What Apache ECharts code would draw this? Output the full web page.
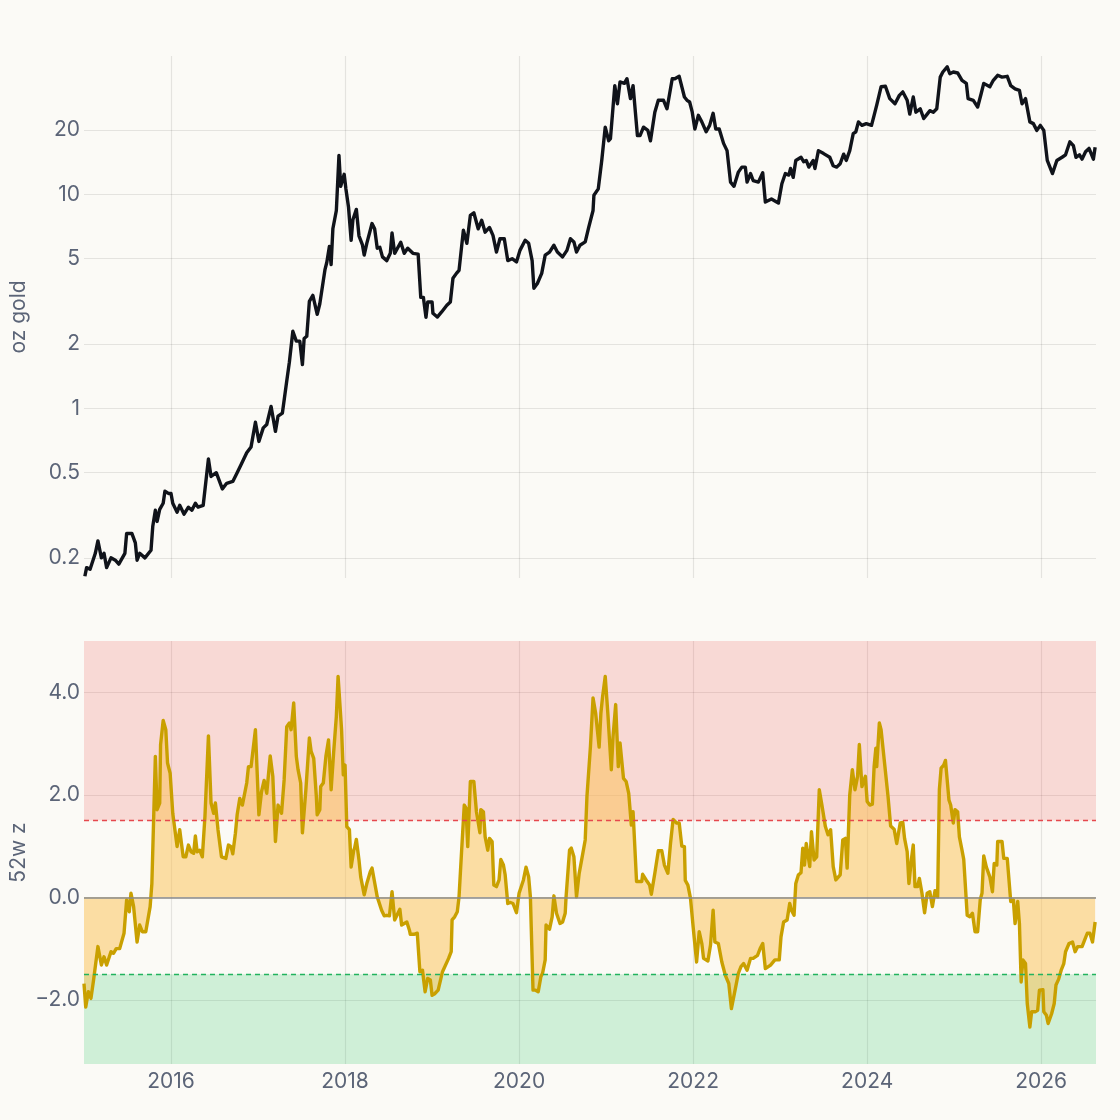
<!DOCTYPE html>
<html>
<head>
<meta charset="UTF-8">
<title>BTC in oz gold / 52w z</title>
<script src="https://cdn.jsdelivr.net/npm/echarts@6/dist/echarts.min.js"></script>
<style>
    html, body { margin: 0; padding: 0; background: #fbfaf6; }
    #chart { width: 1120px; height: 1120px; }
</style>
</head>
<body>
<div id="chart"></div>
<script>
// price in ounces of gold (decimal year, value)
const goldYears = [2015.01,2015.03,2015.07,2015.13,2015.16,2015.20,2015.23,2015.26,2015.31,2015.36,2015.40,2015.47,2015.49,2015.55,2015.59,2015.61,2015.64,2015.70,2015.77,2015.79,2015.82,2015.84,2015.87,2015.91,2015.93,2015.97,2016.00,2016.02,2016.07,2016.10,2016.15,2016.20,2016.24,2016.28,2016.31,2016.37,2016.43,2016.46,2016.52,2016.59,2016.64,2016.71,2016.76,2016.81,2016.87,2016.92,2016.97,2017.01,2017.06,2017.10,2017.15,2017.20,2017.23,2017.28,2017.33,2017.36,2017.40,2017.44,2017.48,2017.51,2017.53,2017.56,2017.59,2017.63,2017.68,2017.71,2017.77,2017.79,2017.82,2017.84,2017.86,2017.90,2017.93,2017.95,2017.99,2018.01,2018.04,2018.07,2018.09,2018.13,2018.16,2018.20,2018.22,2018.25,2018.31,2018.34,2018.37,2018.40,2018.43,2018.48,2018.52,2018.54,2018.57,2018.64,2018.68,2018.72,2018.78,2018.84,2018.87,2018.90,2018.93,2018.95,2019.00,2019.01,2019.06,2019.11,2019.17,2019.21,2019.24,2019.28,2019.31,2019.36,2019.40,2019.44,2019.48,2019.53,2019.57,2019.61,2019.66,2019.70,2019.74,2019.78,2019.83,2019.87,2019.92,2019.97,2020.01,2020.07,2020.11,2020.15,2020.17,2020.21,2020.26,2020.30,2020.35,2020.40,2020.44,2020.50,2020.55,2020.59,2020.63,2020.66,2020.70,2020.76,2020.80,2020.85,2020.86,2020.91,2020.95,2020.99,2021.03,2021.05,2021.10,2021.13,2021.16,2021.21,2021.24,2021.28,2021.31,2021.36,2021.39,2021.43,2021.48,2021.51,2021.56,2021.60,2021.66,2021.70,2021.76,2021.79,2021.84,2021.90,2021.93,2021.96,2021.99,2022.02,2022.06,2022.10,2022.15,2022.19,2022.23,2022.26,2022.30,2022.35,2022.39,2022.43,2022.47,2022.52,2022.56,2022.60,2022.62,2022.66,2022.69,2022.75,2022.80,2022.83,2022.90,2022.98,2023.02,2023.06,2023.10,2023.12,2023.15,2023.18,2023.24,2023.27,2023.30,2023.33,2023.38,2023.40,2023.44,2023.50,2023.57,2023.61,2023.65,2023.69,2023.73,2023.76,2023.80,2023.84,2023.87,2023.90,2023.94,2023.99,2024.05,2024.08,2024.11,2024.16,2024.21,2024.26,2024.32,2024.37,2024.41,2024.46,2024.49,2024.53,2024.56,2024.61,2024.65,2024.69,2024.72,2024.76,2024.80,2024.84,2024.87,2024.92,2024.95,2024.99,2025.04,2025.09,2025.14,2025.16,2025.22,2025.27,2025.31,2025.34,2025.41,2025.45,2025.50,2025.55,2025.61,2025.65,2025.70,2025.75,2025.78,2025.82,2025.87,2025.91,2025.95,2025.99,2026.03,2026.07,2026.13,2026.18,2026.24,2026.28,2026.33,2026.37,2026.40,2026.44,2026.47,2026.51,2026.55,2026.60,2026.62];
const goldOz = [0.164,0.18,0.177,0.21,0.24,0.20,0.21,0.18,0.20,0.195,0.187,0.21,0.26,0.26,0.235,0.195,0.21,0.20,0.217,0.28,0.334,0.296,0.337,0.36,0.41,0.40,0.40,0.36,0.327,0.352,0.32,0.345,0.334,0.36,0.345,0.352,0.58,0.48,0.50,0.42,0.446,0.455,0.50,0.55,0.62,0.66,0.86,0.70,0.81,0.84,1.02,0.78,0.92,0.95,1.34,1.64,2.29,2.06,2.06,1.60,2.12,2.17,3.16,3.37,2.75,3.08,4.46,4.8,5.7,4.7,6.9,8.4,15.2,10.9,12.4,10.6,8.7,6.1,7.6,8.5,6.4,5.8,5.2,5.9,7.3,6.9,5.6,5.65,5.1,4.9,5.3,6.6,5.3,5.97,5.3,5.6,5.3,5.25,3.3,3.3,2.66,3.14,3.14,2.78,2.67,2.82,3.03,3.14,4.05,4.27,4.41,6.8,5.9,7.97,8.2,6.9,7.56,6.65,7.0,6.43,5.37,6.2,6.2,4.9,5.0,4.83,5.47,6.1,5.9,4.9,3.64,3.83,4.27,5.2,5.37,5.78,5.37,5.1,5.47,6.2,5.99,5.37,5.78,5.99,7.0,8.4,9.9,10.6,14.4,20.6,17.8,18.2,32.2,26.5,33.5,33.0,34.7,28.0,32.2,18.8,18.8,20.6,19.9,17.8,24.2,27.5,27.5,25.1,34.7,34.7,35.6,28.5,27.5,27.0,24.2,20.2,23.4,21.8,19.6,21.0,23.9,20.2,20.2,17.3,16.0,11.4,10.9,12.7,13.4,13.4,11.4,12.5,11.6,11.4,12.6,9.2,9.5,9.1,11.2,12.5,12.3,13.2,12.0,14.4,14.9,14.2,14.4,13.4,14.4,13.2,16.0,15.5,14.9,13.6,13.4,13.9,15.4,14.4,16.0,19.2,19.6,21.8,21.0,21.4,21.0,23.4,26.1,31.8,32.0,28.0,26.5,29.0,30.1,27.5,23.7,28.5,24.2,25.1,22.6,23.7,24.6,24.2,25.1,35.3,37.3,39.4,36.6,37.3,36.9,34.1,33.0,28.0,27.5,25.6,29.5,33.0,31.8,34.1,36.0,35.3,35.6,32.2,31.1,30.6,26.5,28.0,21.8,21.4,19.9,21.0,19.9,14.4,12.5,14.4,14.9,15.3,17.6,16.9,14.9,15.3,14.6,15.8,16.4,14.6,16.6];

// 52-week z-score (decimal year, value)
const zYears = [2015.00,2015.02,2015.05,2015.08,2015.11,2015.16,2015.20,2015.23,2015.26,2015.31,2015.34,2015.37,2015.41,2015.46,2015.49,2015.52,2015.54,2015.57,2015.61,2015.64,2015.67,2015.71,2015.76,2015.78,2015.80,2015.82,2015.84,2015.87,2015.88,2015.91,2015.94,2015.96,2015.99,2016.02,2016.04,2016.07,2016.10,2016.12,2016.14,2016.17,2016.20,2016.23,2016.26,2016.28,2016.30,2016.33,2016.36,2016.39,2016.43,2016.46,2016.49,2016.51,2016.54,2016.58,2016.63,2016.66,2016.69,2016.71,2016.74,2016.76,2016.79,2016.82,2016.87,2016.89,2016.92,2016.97,2017.01,2017.04,2017.07,2017.10,2017.14,2017.17,2017.20,2017.23,2017.27,2017.30,2017.33,2017.36,2017.38,2017.41,2017.44,2017.46,2017.49,2017.51,2017.55,2017.59,2017.61,2017.64,2017.67,2017.68,2017.71,2017.72,2017.75,2017.78,2017.81,2017.84,2017.87,2017.90,2017.92,2017.93,2017.96,2017.98,2018.00,2018.02,2018.05,2018.07,2018.09,2018.10,2018.11,2018.13,2018.16,2018.18,2018.20,2018.22,2018.25,2018.29,2018.31,2018.34,2018.37,2018.39,2018.42,2018.45,2018.48,2018.51,2018.54,2018.57,2018.59,2018.63,2018.65,2018.68,2018.71,2018.74,2018.75,2018.79,2018.83,2018.86,2018.89,2018.92,2018.95,2018.98,2019.00,2019.03,2019.07,2019.12,2019.19,2019.22,2019.23,2019.26,2019.29,2019.31,2019.34,2019.37,2019.39,2019.41,2019.44,2019.48,2019.51,2019.52,2019.55,2019.56,2019.59,2019.61,2019.64,2019.66,2019.69,2019.71,2019.74,2019.77,2019.79,2019.82,2019.84,2019.87,2019.90,2019.93,2019.97,2020.00,2020.02,2020.05,2020.08,2020.11,2020.13,2020.16,2020.19,2020.22,2020.25,2020.27,2020.30,2020.31,2020.35,2020.38,2020.40,2020.43,2020.47,2020.50,2020.53,2020.54,2020.58,2020.60,2020.63,2020.66,2020.69,2020.72,2020.74,2020.76,2020.78,2020.82,2020.85,2020.88,2020.92,2020.94,2020.96,2020.99,2021.02,2021.06,2021.08,2021.11,2021.14,2021.16,2021.20,2021.23,2021.26,2021.29,2021.31,2021.35,2021.41,2021.42,2021.46,2021.50,2021.52,2021.56,2021.60,2021.64,2021.67,2021.71,2021.74,2021.77,2021.81,2021.84,2021.87,2021.90,2021.91,2021.94,2021.97,2022.00,2022.04,2022.07,2022.10,2022.12,2022.17,2022.20,2022.23,2022.25,2022.29,2022.33,2022.37,2022.41,2022.44,2022.49,2022.52,2022.55,2022.58,2022.62,2022.66,2022.69,2022.74,2022.77,2022.80,2022.83,2022.89,2022.94,2022.99,2023.01,2023.04,2023.08,2023.11,2023.13,2023.16,2023.18,2023.21,2023.24,2023.26,2023.28,2023.30,2023.34,2023.36,2023.39,2023.42,2023.45,2023.48,2023.52,2023.55,2023.58,2023.61,2023.64,2023.69,2023.72,2023.75,2023.77,2023.80,2023.83,2023.86,2023.89,2023.91,2023.94,2023.98,2024.00,2024.03,2024.06,2024.08,2024.10,2024.11,2024.14,2024.16,2024.20,2024.24,2024.27,2024.31,2024.34,2024.38,2024.41,2024.43,2024.46,2024.48,2024.51,2024.53,2024.55,2024.58,2024.60,2024.63,2024.66,2024.69,2024.72,2024.75,2024.78,2024.81,2024.83,2024.85,2024.88,2024.90,2024.92,2024.94,2024.96,2024.99,2025.01,2025.04,2025.06,2025.09,2025.11,2025.13,2025.15,2025.18,2025.21,2025.24,2025.27,2025.30,2025.32,2025.34,2025.37,2025.41,2025.44,2025.46,2025.49,2025.50,2025.55,2025.57,2025.61,2025.65,2025.68,2025.70,2025.73,2025.75,2025.77,2025.79,2025.82,2025.84,2025.87,2025.89,2025.93,2025.96,2025.98,2026.02,2026.03,2026.06,2026.08,2026.12,2026.15,2026.17,2026.20,2026.23,2026.26,2026.28,2026.32,2026.36,2026.39,2026.42,2026.47,2026.50,2026.53,2026.56,2026.59,2026.62];
const zScore = [-1.68,-2.14,-1.84,-1.97,-1.61,-0.96,-1.32,-1.16,-1.32,-1.06,-1.09,-1.0,-1.0,-0.70,-0.05,-0.28,0.08,-0.18,-0.87,-0.54,-0.67,-0.67,-0.18,0.27,1.51,2.75,1.71,1.84,2.98,3.45,3.27,2.62,2.42,1.64,1.61,0.99,1.32,1.32,0.79,0.79,1.02,0.89,0.86,1.20,0.89,0.92,0.79,1.58,3.15,1.84,1.64,1.84,1.32,0.79,0.76,1.02,0.99,0.85,1.25,1.61,1.93,1.80,2.23,2.55,2.55,3.27,1.61,2.06,2.28,2.03,2.76,2.36,1.09,1.80,1.64,2.29,3.33,3.40,3.27,3.79,2.75,2.49,2.23,1.26,2.10,3.11,2.85,2.71,1.97,1.61,1.71,2.16,2.23,2.75,3.07,2.10,2.85,3.53,4.31,4.31,3.27,2.39,2.58,1.38,1.32,0.59,0.57,0.92,0.96,1.13,0.73,0.40,0.40,0.05,0.27,0.50,0.57,0.29,0.01,0.01,-0.25,-0.36,-0.35,-0.36,0.11,-0.44,-0.44,-0.23,-0.54,-0.51,-0.48,-0.64,-0.72,-0.72,-0.70,-1.45,-1.42,-1.84,-1.58,-1.61,-1.91,-1.88,-1.81,-1.45,-1.19,-1.06,-0.44,-0.38,-0.28,0.01,0.92,1.80,1.74,0.99,2.26,2.26,1.67,1.64,1.26,1.71,1.67,1.18,0.92,1.15,1.09,0.24,0.21,0.34,0.74,0.63,0.44,-0.12,-0.10,-0.12,-0.30,0.08,0.11,0.34,0.59,0.40,0.01,-1.81,-1.81,-1.84,-1.55,-1.48,-1.22,-0.54,-0.62,-0.38,0.03,-0.31,-0.51,-0.48,-0.31,0.01,0.92,0.96,0.79,0.01,0.46,0.74,0.73,1.12,1.97,2.94,3.89,3.59,2.93,3.59,3.92,4.31,3.59,2.49,3.14,3.76,2.55,3.01,2.32,2.26,2.03,1.41,1.67,0.31,0.31,0.45,0.34,0.24,0.06,0.47,0.91,0.91,0.63,0.47,1.05,1.52,1.45,1.45,1.00,0.99,0.33,0.24,-0.02,-0.57,-1.26,-0.67,-0.90,-1.19,-1.24,-0.93,-0.25,-0.87,-0.90,-1.26,-1.52,-1.68,-2.17,-1.74,-1.48,-1.35,-1.29,-1.42,-1.19,-1.19,-1.13,-1.0,-0.90,-1.39,-1.32,-1.22,-1.22,-0.77,-0.48,-0.44,-0.12,-0.25,-0.35,0.27,0.44,0.48,0.96,0.63,1.05,0.60,1.28,0.73,0.79,2.10,1.80,1.38,1.22,1.32,0.60,0.34,0.44,1.12,1.15,0.57,2.0,2.49,2.10,2.36,2.98,2.16,2.36,1.87,1.80,1.82,2.55,2.91,2.55,3.40,3.27,2.62,1.97,1.39,1.33,1.05,1.45,1.46,1.15,0.89,0.27,0.76,1.02,0.21,0.21,0.37,0.08,-0.30,0.08,0.11,-0.18,0.13,0.01,2.10,2.52,2.58,2.67,2.65,1.90,1.80,1.45,1.71,1.67,1.18,0.92,0.74,0.74,-0.35,-0.38,-0.31,-0.67,-0.67,-0.04,0.08,0.81,0.59,0.40,0.11,0.66,0.63,1.09,1.09,0.76,0.76,-0.08,-0.05,-0.51,-0.08,-0.51,-1.65,-1.22,-1.29,-2.07,-2.53,-2.23,-2.23,-2.20,-1.81,-1.80,-2.23,-2.30,-2.46,-2.27,-2.07,-1.71,-1.60,-1.42,-1.29,-1.06,-0.90,-0.87,-1.06,-0.96,-0.96,-0.83,-0.70,-0.70,-0.87,-0.48];

const yearTicks = [2016, 2018, 2020, 2022, 2024, 2026];
const ozTicks = [0.2, 0.5, 1, 2, 5, 10, 20];
const zTicks = [-2, 0, 2, 4];
const zHigh = 1.5;
const zLow = -1.5;

const textColor = '#5b6477';
const gridColor = 'rgba(0,0,0,0.09)';
const font = 'Inter, "Noto Sans", sans-serif';

const goldData = goldYears.map((t, i) => [t, Math.log10(goldOz[i])]);
const zData = zYears.map((t, i) => [t, zScore[i]]);
const ozTickLogs = ozTicks.map(v => Math.log10(v));

function xAxisFor(idx, showLabels) {
    return {
        type: 'value',
        gridIndex: idx,
        min: 2015,
        max: 2026.63,
        axisLine: { show: false },
        axisTick: { show: false, customValues: yearTicks },
        axisLabel: {
            show: showLabels,
            customValues: yearTicks,
            color: textColor,
            fontFamily: font,
            fontSize: 21,
            margin: 7,
            formatter: v => String(v)
        },
        splitLine: { show: true, lineStyle: { color: gridColor, width: 1.2 } }
    };
}

function yName(text) {
    return {
        name: text,
        nameLocation: 'middle',
        nameGap: 55,
        nameMoveOverlap: false,
        nameTextStyle: { color: textColor, fontFamily: font, fontSize: 21 }
    };
}

const chart = echarts.init(document.getElementById('chart'));
chart.setOption({
    backgroundColor: '#fbfaf6',
    animation: false,
    grid: [
        { left: 84, right: 24, top: 56, height: 522, containLabel: false, outerBoundsMode: 'none' },
        { left: 84, right: 24, top: 641, height: 423, containLabel: false, outerBoundsMode: 'none' }
    ],
    xAxis: [xAxisFor(0, false), xAxisFor(1, true)],
    yAxis: [
        Object.assign({
            type: 'value',
            gridIndex: 0,
            min: Math.log10(0.161),
            max: Math.log10(44.3),
            axisLine: { show: false },
            axisTick: { show: false, customValues: ozTickLogs },
            axisLabel: {
                customValues: ozTickLogs,
                color: textColor,
                fontFamily: font,
                fontSize: 21,
                margin: 4,
                formatter: v => String(Number(Math.pow(10, v).toPrecision(2)))
            },
            splitLine: { show: true, lineStyle: { color: gridColor, width: 1.2 } }
        }, yName('oz gold')),
        Object.assign({
            type: 'value',
            gridIndex: 1,
            min: -3.25,
            max: 5,
            axisLine: { show: false },
            axisTick: { show: false, customValues: zTicks },
            axisLabel: {
                customValues: zTicks,
                color: textColor,
                fontFamily: font,
                fontSize: 21,
                margin: 4,
                formatter: v => v.toFixed(1).replace('-', '\u2212')
            },
            splitLine: { show: true, lineStyle: { color: gridColor, width: 1.2 } }
        }, yName('52w z'))
    ],
    series: [
        {
            name: 'oz gold',
            type: 'line',
            xAxisIndex: 0,
            yAxisIndex: 0,
            data: goldData,
            showSymbol: false,
            sampling: 'none',
            lineStyle: { color: '#10131a', width: 3.4, join: 'round' }
        },
        {
            name: 'bands',
            type: 'line',
            xAxisIndex: 1,
            yAxisIndex: 1,
            data: [],
            z: 1,
            markArea: {
                silent: true,
                label: { show: false },
                data: [
                    [{ yAxis: zHigh, itemStyle: { color: 'rgba(239,68,68,0.18)' } }, { yAxis: 5 }],
                    [{ yAxis: -3.25, itemStyle: { color: 'rgba(34,197,94,0.2)' } }, { yAxis: zLow }]
                ]
            },
            markLine: {
                silent: true,
                symbol: 'none',
                label: { show: false },
                data: [
                    { yAxis: 0, lineStyle: { color: '#8a8a8a', width: 1.6, type: 'solid' } },
                    { yAxis: zHigh, lineStyle: { color: '#e5484d', width: 1.4, type: [5, 4] } },
                    { yAxis: zLow, lineStyle: { color: '#22b35e', width: 1.4, type: [5, 4] } }
                ]
            }
        },
        {
            name: '52w z',
            type: 'line',
            xAxisIndex: 1,
            yAxisIndex: 1,
            data: zData,
            z: 3,
            showSymbol: false,
            sampling: 'none',
            lineStyle: { color: '#c9a000', width: 3.4, join: 'round' },
            areaStyle: { color: 'rgba(251,192,80,0.5)', opacity: 1, origin: 0 }
        }
    ]
});
</script>
</body>
</html>
